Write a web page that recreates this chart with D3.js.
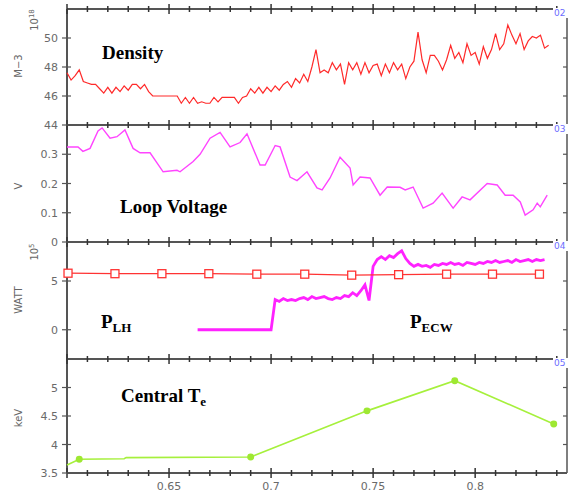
<!DOCTYPE html>
<html>
<head>
<meta charset="utf-8">
<script src="https://cdn.jsdelivr.net/npm/d3@7"></script>
<style>
body { margin: 0; background: #fff; }
.tlabel { font-family: "DejaVu Sans", sans-serif; font-size: 11px; fill: #6a6a6a; }
.ylab { font-family: "DejaVu Sans", sans-serif; font-size: 10px; fill: #666; }
.title { font-family: "Liberation Serif", serif; font-weight: bold; font-size: 19px; fill: #000; }
.tag { font-family: "DejaVu Sans", sans-serif; font-size: 9px; fill: #6b6bff; }
</style>
</head>
<body>
<div id="chart"></div>
<script>
// x axis: time (s)
var xTicks = [0.65, 0.7, 0.75, 0.8];

// line density, one sample every 2 ms from 0.600 s (10^18 m^-3)
var densityStart = 0.6;
var densityStep = 0.002;
var density = [
  47.6, 47.1, 47.4, 47.8, 47.0, 46.9, 46.8, 46.8, 46.5, 46.2,
  46.6, 46.2, 46.6, 46.3, 46.7, 46.4, 46.8, 46.8, 46.5, 46.8,
  46.3, 46.0, 46.0, 46.0, 46.0, 46.0, 46.0, 46.0, 45.5, 45.9,
  45.5, 45.9, 45.5, 45.6, 45.5, 45.5, 45.9, 45.6, 45.9, 45.9,
  45.9, 45.9, 45.5, 45.9, 46.0, 46.5, 46.2, 46.6, 46.2, 46.6,
  46.3, 46.7, 46.4, 46.8, 47.0, 46.6, 47.2, 46.9, 47.5, 47.0,
  48.0, 49.2, 47.6, 47.8, 47.6, 48.3, 47.8, 48.2, 46.8, 48.3,
  47.8, 48.3, 47.5, 48.3, 47.6, 48.1, 48.2, 47.4, 48.2, 47.6,
  48.3, 47.8, 48.2, 47.2, 48.0, 48.4, 50.4, 48.5, 47.6, 48.8,
  48.8, 48.4, 47.8, 48.5, 49.5, 48.6, 49.0, 48.3, 49.6, 48.8,
  49.0, 48.2, 49.4, 48.6, 49.2, 50.3, 49.2, 49.6, 50.9, 50.2,
  49.6, 50.3, 49.2, 49.8, 50.1, 50.0, 50.2, 49.3, 49.5
];

// loop voltage (V)
var loopTime = [
  0.6, 0.6054, 0.6078, 0.6113, 0.6152, 0.6172, 0.6211, 0.6245, 0.6284, 0.6324,
  0.6358, 0.6407, 0.6471, 0.6539, 0.6554, 0.6618, 0.6652, 0.6701, 0.675, 0.6799,
  0.6848, 0.6882, 0.6946, 0.6971, 0.702, 0.7044, 0.7093, 0.7127, 0.7176, 0.7225,
  0.725, 0.7289, 0.7338, 0.7387, 0.7402, 0.7436, 0.7485, 0.7534, 0.7569, 0.7632,
  0.7657, 0.7696, 0.7745, 0.7794, 0.7838, 0.7892, 0.7936, 0.7975, 0.8059, 0.8108,
  0.8147, 0.8186, 0.8221, 0.8245, 0.8284, 0.8304, 0.8319, 0.8353
];
var loopVoltage = [
  0.325, 0.325, 0.31, 0.32, 0.38, 0.39, 0.355, 0.36, 0.383, 0.32,
  0.305, 0.305, 0.24, 0.245, 0.24, 0.275, 0.30, 0.355, 0.375, 0.325,
  0.34, 0.37, 0.263, 0.263, 0.33, 0.325, 0.222, 0.21, 0.24, 0.185,
  0.178, 0.219, 0.29, 0.253, 0.195, 0.222, 0.219, 0.16, 0.188, 0.187,
  0.178, 0.188, 0.116, 0.133, 0.167, 0.116, 0.154, 0.144, 0.2, 0.195,
  0.16, 0.16, 0.137, 0.092, 0.11, 0.133, 0.12, 0.16
];

// lower hybrid power (10^5 W)
var lhTime = [0.6005, 0.6235, 0.6465, 0.6695, 0.693, 0.7165, 0.7395, 0.7625, 0.786, 0.8085, 0.8315];
var lhPower = [5.8, 5.75, 5.75, 5.75, 5.7, 5.7, 5.6, 5.65, 5.7, 5.7, 5.7];

// ECW power, one sample every 2 ms from 0.664 s (10^5 W)
var ecwStart = 0.664;
var ecwStep = 0.002;
var ecwPower = [
  0, 0, 0, 0, 0, 0, 0, 0, 0, 0,
  0, 0, 0, 0, 0, 0, 0, 0, 0,
  3.1, 2.9, 3.2, 3.0, 3.1, 3.0, 3.2, 3.3, 3.1, 3.4,
  3.2, 3.3, 3.4, 3.2, 3.1, 3.3, 3.2, 3.5, 3.4, 3.8,
  3.5, 4.0, 4.6, 3.0, 6.5, 7.2, 7.5, 7.2, 7.6, 7.4,
  7.8, 8.1, 7.3, 6.8, 6.5, 6.7, 6.5, 6.6, 6.4, 6.7,
  6.6, 6.8, 6.7, 6.9, 6.7, 6.8, 6.6, 6.9, 6.8, 6.7,
  6.9, 6.8, 7.0, 6.9, 7.1, 6.9, 7.0, 7.1, 6.9, 7.2,
  7.0, 7.1, 7.2, 7.0, 7.2, 7.1, 7.2
];

// central electron temperature (keV)
var teTime = [0.6, 0.606, 0.628, 0.629, 0.69, 0.747, 0.79, 0.8385];
var teValue = [3.64, 3.74, 3.75, 3.77, 3.78, 4.59, 5.12, 4.36];
var teShot = [false, true, false, false, true, true, true, true];

var svgWidth = 568;
var svgHeight = 494;
var left = 67;
var right = 567;

var svg = d3.select("#chart")
  .append("svg")
  .attr("width", svgWidth)
  .attr("height", svgHeight)
  .style("display", "block");

var xScale = d3.scaleLinear()
  .domain([0.6, 0.845])
  .range([left, right]);

// panel frames: top, bottom, y domain, labelled ticks
var panels = [
  { top: 9, bottom: 125, domain: [44, 52], ticks: [44, 46, 48, 50], fmt: d3.format("d"), tag: "02" },
  { top: 125, bottom: 242, domain: [0, 0.4], ticks: [0, 0.1, 0.2, 0.3], fmt: d3.format(".1~f"), tag: "03" },
  { top: 242, bottom: 359, domain: [-3, 9], ticks: [0, 5], fmt: d3.format("d"), tag: "04" },
  { top: 359, bottom: 473, domain: [3.5, 5.5], ticks: [3.5, 4, 4.5, 5], fmt: d3.format(".1~f"), tag: "05" }
];

panels.forEach(p => {
  p.y = d3.scaleLinear().domain(p.domain).range([p.bottom, p.top]);
});

var frame = svg.append("g");

// left & right axis lines
frame.append("line")
  .attr("x1", left).attr("x2", left)
  .attr("y1", 9).attr("y2", 473)
  .attr("stroke", "#555").attr("stroke-width", 2);
frame.append("line")
  .attr("x1", right).attr("x2", right)
  .attr("y1", 9).attr("y2", 473)
  .attr("stroke", "#555").attr("stroke-width", 1.5);

// horizontal borders with crossing time ticks
var borders = [9, 125, 242, 359, 473];
var minorTicks = d3.range(60, 85).map(d => d / 100);

borders.forEach(b => {
  frame.append("line")
    .attr("x1", left).attr("x2", right)
    .attr("y1", b).attr("y2", b)
    .attr("stroke", "#555").attr("stroke-width", 2);

  frame.selectAll(null)
    .data(minorTicks)
    .enter()
    .append("line")
    .attr("x1", d => xScale(d)).attr("x2", d => xScale(d))
    .attr("y1", d => b - (Math.round(d * 100) % 5 === 0 ? 5 : 3))
    .attr("y2", d => b + (Math.round(d * 100) % 5 === 0 ? 5 : 3))
    .attr("stroke", "#333")
    .attr("stroke-width", 1.5);
});

// y ticks and labels
panels.forEach(p => {
  frame.selectAll(null)
    .data(p.ticks)
    .enter()
    .append("line")
    .attr("x1", left - 5).attr("x2", left + 4)
    .attr("y1", d => p.y(d)).attr("y2", d => p.y(d))
    .attr("stroke", "#555").attr("stroke-width", 1.2);

  frame.selectAll(null)
    .data(p.ticks)
    .enter()
    .append("line")
    .attr("x1", right - 4).attr("x2", right)
    .attr("y1", d => p.y(d)).attr("y2", d => p.y(d))
    .attr("stroke", "#555").attr("stroke-width", 1.2);

  frame.selectAll(null)
    .data(p.ticks)
    .enter()
    .append("text")
    .attr("class", "tlabel")
    .attr("x", 58)
    .attr("y", d => p.y(d) + 4)
    .attr("text-anchor", "end")
    .text(d => p.fmt(d));
});

// x tick labels along the bottom
frame.selectAll(null)
  .data(xTicks)
  .enter()
  .append("text")
  .attr("class", "tlabel")
  .attr("x", d => xScale(d))
  .attr("y", 490)
  .attr("text-anchor", "middle")
  .text(d => d3.format(".2~f")(d));

var pDen = panels[0], pLoop = panels[1], pPow = panels[2], pTe = panels[3];

// density
var denData = density.map((v, i) => [densityStart + i * densityStep, v]);
svg.append("path")
  .datum(denData)
  .attr("fill", "none")
  .attr("stroke", "#ff2a2a")
  .attr("stroke-width", 1.2)
  .attr("d", d3.line().x(d => xScale(d[0])).y(d => pDen.y(d[1])));

// loop voltage
var loopData = loopTime.map((t, i) => [t, loopVoltage[i]]);
svg.append("path")
  .datum(loopData)
  .attr("fill", "none")
  .attr("stroke", "#ff44ff")
  .attr("stroke-width", 1.4)
  .attr("d", d3.line().x(d => xScale(d[0])).y(d => pLoop.y(d[1])));

// ECW power
var ecwData = ecwPower.map((v, i) => [ecwStart + i * ecwStep, v]);
svg.append("path")
  .datum(ecwData)
  .attr("fill", "none")
  .attr("stroke", "#ff22ff")
  .attr("stroke-width", 2.8)
  .attr("d", d3.line().x(d => xScale(d[0])).y(d => pPow.y(d[1])));

// LH power with open squares
var lhData = lhTime.map((t, i) => [t, lhPower[i]]);
svg.append("path")
  .datum(lhData)
  .attr("fill", "none")
  .attr("stroke", "#ff3333")
  .attr("stroke-width", 1.2)
  .attr("d", d3.line().x(d => xScale(d[0])).y(d => pPow.y(d[1])));
svg.selectAll(".lhsq")
  .data(lhData)
  .enter()
  .append("rect")
  .attr("class", "lhsq")
  .attr("x", d => xScale(d[0]) - 4)
  .attr("y", d => pPow.y(d[1]) - 4)
  .attr("width", 8)
  .attr("height", 8)
  .attr("fill", "#fff")
  .attr("stroke", "#ff3333")
  .attr("stroke-width", 1.3);

// central Te
var teData = teTime.map((t, i) => [t, teValue[i], teShot[i]]);
svg.append("path")
  .datum(teData)
  .attr("fill", "none")
  .attr("stroke", "#a6f03c")
  .attr("stroke-width", 1.6)
  .attr("d", d3.line().x(d => xScale(d[0])).y(d => pTe.y(d[1])));
svg.selectAll(".tept")
  .data(teData.filter(d => d[2]))
  .enter()
  .append("path")
  .attr("class", "tept")
  .attr("transform", d => `translate(${xScale(d[0])},${pTe.y(d[1])})`)
  .attr("d", d3.symbol().type(d3.symbolCircle).size(38))
  .attr("fill", "#9ee832");

// panel tags in the top right corner
panels.forEach(p => {
  svg.append("rect")
    .attr("x", 553).attr("y", p.top - 1)
    .attr("width", 15).attr("height", 10)
    .attr("fill", "#fff");
  svg.append("text")
    .attr("class", "tag")
    .attr("x", 554).attr("y", p.top + 7)
    .text(p.tag);
});

// y axis titles (rotated)
function yTitle(x, y, main, sup) {
  var t = svg.append("text")
    .attr("class", "ylab")
    .attr("transform", `translate(${x},${y}) rotate(-90)`)
    .attr("text-anchor", "middle")
    .text(main);
  if (sup) {
    t.append("tspan")
      .attr("dy", -4)
      .style("font-size", "7px")
      .text(sup);
  }
}
yTitle(22, 66, "M\u22123");
yTitle(38, 20, "10", "18");
yTitle(22, 186, "V");
yTitle(22, 300, "WATT");
yTitle(38, 252, "10", "5");
yTitle(22, 418, "keV");

// panel titles
svg.append("text").attr("class", "title").attr("x", 102).attr("y", 59).text("Density");
svg.append("text").attr("class", "title").attr("x", 120).attr("y", 213).text("Loop Voltage");

var plh = svg.append("text").attr("class", "title").attr("x", 101).attr("y", 328).text("P");
plh.append("tspan").attr("dy", 4).style("font-size", "13px").text("LH");

var pecw = svg.append("text").attr("class", "title").attr("x", 410).attr("y", 328).text("P");
pecw.append("tspan").attr("dy", 4).style("font-size", "13px").text("ECW");

var cte = svg.append("text").attr("class", "title").attr("x", 121).attr("y", 402).text("Central T");
cte.append("tspan").attr("dy", 4).style("font-size", "13px").text("e");
</script>
</body>
</html>
